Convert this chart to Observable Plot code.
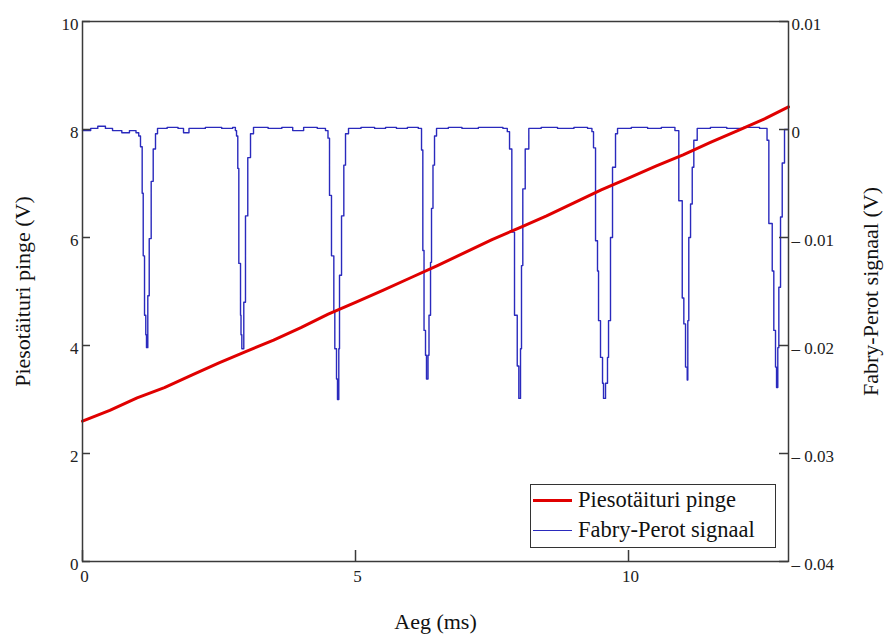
<!DOCTYPE html>
<html><head><meta charset="utf-8">
<script src="https://cdn.jsdelivr.net/npm/d3@7"></script>
<script src="https://cdn.jsdelivr.net/npm/@observablehq/plot@0.6"></script>
<style>
body{margin:0;background:#fff;}
#wrap{position:relative;width:887px;height:640px;background:#fff;}
#wrap svg{font-family:"Liberation Serif",serif;}
#legend{position:absolute;left:530px;top:484px;width:246px;height:64px;box-sizing:border-box;border:1.5px solid #333;background:#fff;font-family:"Liberation Serif",serif;font-size:22.5px;color:#111;}
.row{position:absolute;left:0;height:28px;display:flex;align-items:center;white-space:nowrap;}
.sw{display:inline-block;width:39px;margin-left:2px;margin-right:6px;}
</style></head><body><div id="wrap"></div>
<script>
// ---- data ----
const xTitle = "Aeg (ms)";
const leftTitle = "Piesotäituri pinge (V)";
const rightTitle = "Fabry-Perot signaal (V)";
const seriesNames = ["Piesotäituri pinge", "Fabry-Perot signaal"];

const xDomain = [0, 12.93];
const leftDomain = [0, 10];
const rightDomain = [-0.04, 0.01];
const xTicks = [0, 5, 10];
const leftTicks = [0, 2, 4, 6, 8, 10];
const leftTickLabels = ["0", "2", "4", "6", "8", "10"];
const rightTickLabels = ["– 0.04", "– 0.03", "– 0.02", "– 0.01", "0", "0.01"];
const xTickLabels = ["0", "5", "10"];

// Piezo voltage (left axis, V)
const redTime = [0, 0.5, 1.0, 1.5, 2.0, 2.5, 3.0, 3.5, 4.0, 4.5, 5.0, 5.5, 6.0, 6.5, 7.0, 7.5, 8.0, 8.5, 9.0, 9.5, 10.0, 10.5, 11.0, 11.5, 12.0, 12.5, 12.93];
const redValues = [2.60, 2.80, 3.03, 3.22, 3.45, 3.68, 3.89, 4.10, 4.33, 4.58, 4.80, 5.02, 5.25, 5.48, 5.72, 5.96, 6.18, 6.40, 6.64, 6.88, 7.10, 7.32, 7.53, 7.76, 7.98, 8.20, 8.42];

// Fabry-Perot signal (right axis, V) — stepped trace
const fpTime = [
  0, 0.15, 0.28, 0.42, 0.55, 0.72, 0.86, 0.98,
  1.030, 1.062, 1.093, 1.112, 1.136, 1.159, 1.172, 1.196, 1.222, 1.258, 1.295, 1.337, 1.374,
  1.55, 1.75, 1.85, 1.95, 2.25, 2.55, 2.75,
  2.80, 2.821, 2.844, 2.863, 2.894, 2.903, 2.918, 2.954, 2.985, 3.027, 3.077, 3.132,
  3.40, 3.65, 3.85, 4.05, 4.30, 4.45,
  4.496, 4.524, 4.560, 4.603, 4.621, 4.652, 4.670, 4.694, 4.707, 4.744, 4.786, 4.817, 4.872,
  5.10, 5.35, 5.55, 5.75, 5.95, 6.15,
  6.209, 6.233, 6.255, 6.282, 6.300, 6.328, 6.346, 6.374, 6.392, 6.419, 6.447, 6.484,
  6.70, 6.95, 7.25, 7.50, 7.70, 7.78,
  7.821, 7.863, 7.912, 7.962, 7.991, 8.022, 8.040, 8.064, 8.108, 8.174,
  8.40, 8.70, 9.00, 9.25, 9.33,
  9.359, 9.396, 9.432, 9.451, 9.487, 9.524, 9.542, 9.579, 9.615, 9.634, 9.670, 9.707, 9.762, 9.799,
  10.05, 10.35, 10.60, 10.85,
  10.921, 10.984, 11.013, 11.044, 11.075, 11.086, 11.104, 11.136, 11.167, 11.196, 11.258,
  11.50, 11.80, 12.10, 12.40,
  12.537, 12.570, 12.632, 12.661, 12.692, 12.711, 12.734, 12.753, 12.784, 12.815, 12.857, 12.93
];
const fpSignal = [
  -0.0001, 0.0001, 0.0003, 0.0001, -0.0001, -0.0003, -0.0001, -0.0003,
  -0.0006, -0.0016, -0.0059, -0.0117, -0.0172, -0.0190, -0.0202, -0.0154, -0.0101, -0.0048, -0.0018, -0.0004, 0.0001,
  0.0002, 0.0001, -0.0003, 0.0001, 0.0002, 0.0001, 0.0002,
  -0.0001, -0.0006, -0.0036, -0.0124, -0.0172, -0.0190, -0.0203, -0.0160, -0.0080, -0.0026, -0.0004, 0.0002,
  0.0001, 0.0002, -0.0001, 0.0002, 0.0001, -0.0001,
  -0.0008, -0.0061, -0.0117, -0.0169, -0.0203, -0.0231, -0.0250, -0.0203, -0.0135, -0.0080, -0.0033, -0.0004, 0.0001,
  0.0002, 0.0001, 0.0002, 0.0001, 0.0002, 0.0001,
  -0.0019, -0.0112, -0.0186, -0.0209, -0.0231, -0.0209, -0.0172, -0.0123, -0.0073, -0.0033, -0.0006, 0.0001,
  0.0002, 0.0001, 0.0002, 0.0002, 0.0001, -0.0002,
  -0.0018, -0.0095, -0.0172, -0.0219, -0.0249, -0.0203, -0.0126, -0.0055, -0.0018, 0.0001,
  0.0002, 0.0001, 0.0002, 0.0001, -0.0002,
  -0.0017, -0.0103, -0.0131, -0.0177, -0.0211, -0.0235, -0.0249, -0.0235, -0.0211, -0.0177, -0.0100, -0.0035, -0.0004, 0.0001,
  0.0002, 0.0001, 0.0002, -0.0001,
  -0.0066, -0.0156, -0.0180, -0.0220, -0.0232, -0.0177, -0.0100, -0.0069, -0.0035, -0.0010, 0.0001,
  0.0002, 0.0001, 0.0002, 0.0001,
  -0.0010, -0.0087, -0.0131, -0.0186, -0.0220, -0.0239, -0.0202, -0.0146, -0.0081, -0.0031, 0.0000, 0.0000
];

const redColor = "#e00000";
const blueColor = "#2a2abd";
const axisColor = "#3a3a3a";

// ---- build ----
const toLeft = d3.scaleLinear(rightDomain, leftDomain);
const red = redTime.map((t, i) => ({t, v: redValues[i]}));
const blue = fpTime.map((t, i) => ({t, v: toLeft(fpSignal[i])}));

const W = 887, H = 640, mL = 82, mR = 99, mT = 21, mB = 79;
const innerW = W - mL - mR, innerH = H - mT - mB;
const serif = "Liberation Serif";

const chart = Plot.plot({
  width: W, height: H,
  marginLeft: mL, marginRight: mR, marginTop: mT, marginBottom: mB,
  style: "font-family: 'Liberation Serif', serif; font-size: 17px; color: #222; background: #fff;",
  x: {domain: xDomain},
  y: {domain: leftDomain},
  marks: [
    Plot.line(blue, {x: "t", y: "v", stroke: blueColor, strokeWidth: 1.4, curve: "step-after"}),
    Plot.line(red, {x: "t", y: "v", stroke: redColor, strokeWidth: 3}),
    Plot.frame({stroke: axisColor, strokeWidth: 1.5}),
    Plot.tickY(leftTicks, {y: d => d, stroke: axisColor, strokeWidth: 1.5, insetRight: innerW - 8}),
    Plot.tickY(leftTicks, {y: d => d, stroke: axisColor, strokeWidth: 1.5, insetLeft: innerW - 9}),
    Plot.tickX(xTicks, {x: d => d, stroke: axisColor, strokeWidth: 1.5, insetTop: innerH - 11}),
    Plot.axisY(leftTicks, {anchor: "left", tickSize: 0, tickPadding: 4, dy: 3, label: null, fontSize: 17, fontFamily: serif,
      tickFormat: d => leftTickLabels[leftTicks.indexOf(d)]}),
    Plot.axisY(leftTicks, {anchor: "right", tickSize: 0, tickPadding: 3, dy: 3, label: null, fontSize: 17, fontFamily: serif,
      tickFormat: d => rightTickLabels[leftTicks.indexOf(d)]}),
    Plot.axisX(xTicks, {anchor: "bottom", tickSize: 0, tickPadding: 8, dx: 2, label: null, fontSize: 17, fontFamily: serif,
      tickFormat: d => xTickLabels[xTicks.indexOf(d)]}),
    Plot.text([xTitle], {text: d => d, frameAnchor: "bottom", dy: 67, fontSize: 22, fontFamily: serif, fill: "#111"}),
    Plot.text([leftTitle], {text: d => d, frameAnchor: "left", textAnchor: "middle", rotate: -90, dx: -60, fontSize: 22, fontFamily: serif, fill: "#111"}),
    Plot.text([rightTitle], {text: d => d, frameAnchor: "right", textAnchor: "middle", rotate: -90, dx: 82, fontSize: 22, fontFamily: serif, fill: "#111"})
  ]
});

const wrap = document.getElementById("wrap");
wrap.appendChild(chart);

const legend = document.createElement("div");
legend.id = "legend";
const colors = [redColor, blueColor];
const widths = [3, 1.5];
const tops = [1, 31];
seriesNames.forEach((name, i) => {
  const row = document.createElement("div");
  row.className = "row";
  row.style.top = tops[i] + "px";
  const sw = document.createElement("span");
  sw.className = "sw";
  sw.style.borderTop = `${widths[i]}px solid ${colors[i]}`;
  const tx = document.createElement("span");
  tx.textContent = name;
  row.appendChild(sw);
  row.appendChild(tx);
  legend.appendChild(row);
});
wrap.appendChild(legend);
</script>
</body></html>
